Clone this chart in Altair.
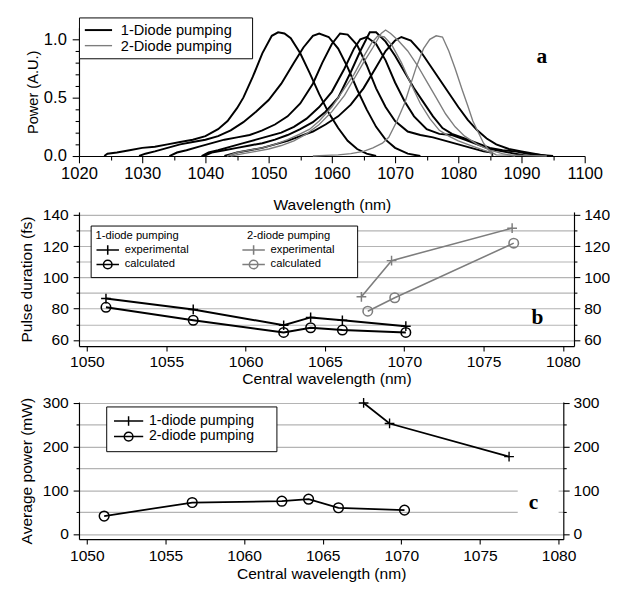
import altair as alt
import pandas as pd

FONT = "Liberation Sans"
SERIF = "Liberation Serif"
GRAY = "#7d7d7d"
GRID = "#b4b4b4"
NB = "\u00a0"
BLANK = "\u2800"

# ---------------- panel a : spectra ----------------
B1_WL = [1024.0, 1024.5, 1026, 1028, 1030, 1032, 1034, 1036, 1038, 1040, 1042, 1043.5, 1045, 1046, 1047.5, 1049,
         1050.5, 1051.5, 1052.5, 1053.5, 1055, 1056.5, 1058, 1059.5, 1061, 1062.5, 1064, 1065.5, 1067]
B1_P = [0.00, 0.02, 0.03, 0.05, 0.07, 0.08, 0.10, 0.12, 0.14, 0.17, 0.23, 0.30, 0.41, 0.50, 0.68, 0.88,
        1.03, 1.06, 1.05, 1.01, 0.88, 0.71, 0.53, 0.37, 0.24, 0.13, 0.06, 0.02, 0.00]

B2_WL = [1029.5, 1030.5, 1032, 1034, 1036, 1038, 1040, 1042, 1044, 1046, 1048, 1050, 1052, 1054, 1055.5, 1057,
         1058, 1059.5, 1061, 1062.5, 1064, 1065.5, 1067, 1068.5, 1070, 1072, 1074]
B2_P = [0.00, 0.02, 0.04, 0.07, 0.10, 0.12, 0.14, 0.17, 0.22, 0.29, 0.38, 0.48, 0.62, 0.80, 0.93, 1.03,
        1.05, 1.02, 0.92, 0.76, 0.57, 0.40, 0.25, 0.14, 0.07, 0.02, 0.00]

B3_WL = [1034.3, 1035.5, 1037, 1039, 1041, 1043, 1045, 1047, 1049, 1051, 1053, 1055, 1057, 1058.5, 1060, 1061.3,
         1062.5, 1064, 1065.5, 1067, 1068.5, 1070, 1072, 1074, 1076, 1078, 1080, 1082, 1084, 1085.3, 1085.4]
B3_P = [0.00, 0.03, 0.05, 0.08, 0.11, 0.14, 0.16, 0.18, 0.22, 0.27, 0.34, 0.45, 0.62, 0.80, 0.96, 1.05,
        1.04, 0.95, 0.78, 0.58, 0.42, 0.30, 0.21, 0.18, 0.16, 0.13, 0.10, 0.07, 0.04, 0.03, 0.00]

B4_WL = [1039.4, 1040.5, 1042, 1044, 1046, 1048, 1050, 1052, 1054, 1056, 1058, 1060, 1062, 1063.5, 1064.5,
         1065.5, 1067, 1068.5, 1070, 1071.5, 1073, 1075, 1077, 1079, 1081, 1083, 1085, 1087, 1089, 1091]
B4_P = [0.00, 0.03, 0.05, 0.08, 0.11, 0.14, 0.17, 0.20, 0.25, 0.32, 0.42, 0.55, 0.75, 0.92, 1.00,
        1.02, 0.96, 0.82, 0.63, 0.47, 0.34, 0.23, 0.19, 0.18, 0.14, 0.10, 0.06, 0.04, 0.02, 0.00]

B5_WL = [1039.7, 1041, 1043, 1045, 1047, 1049, 1051, 1053, 1055, 1057, 1059, 1061, 1063, 1064.5, 1066, 1067,
         1068.5, 1070, 1071.5, 1073, 1074.5, 1076, 1077.5, 1079, 1081, 1083, 1085, 1087, 1089, 1091, 1093, 1095]
B5_P = [0.00, 0.03, 0.05, 0.07, 0.09, 0.11, 0.14, 0.18, 0.23, 0.29, 0.38, 0.50, 0.72, 0.90, 1.06, 1.06,
        0.98, 0.86, 0.72, 0.58, 0.46, 0.34, 0.24, 0.19, 0.15, 0.11, 0.07, 0.05, 0.04, 0.02, 0.01, 0.00]

B6_WL = [1043, 1045, 1047, 1049, 1051, 1053, 1055, 1057, 1059, 1061, 1063, 1065, 1067, 1068.5, 1070, 1071,
         1072.5, 1074, 1075.5, 1077, 1078.5, 1080, 1081.5, 1083, 1084.5, 1086, 1088, 1090, 1092, 1094]
B6_P = [0.00, 0.03, 0.05, 0.07, 0.10, 0.13, 0.17, 0.21, 0.27, 0.34, 0.44, 0.58, 0.76, 0.90, 0.99, 1.02,
        0.99, 0.90, 0.78, 0.66, 0.54, 0.42, 0.31, 0.22, 0.15, 0.10, 0.06, 0.04, 0.02, 0.00]

G1_WL = [1043.4, 1045, 1047, 1049, 1051, 1053, 1055, 1056.5, 1058, 1060, 1062, 1063.5, 1065, 1066.3, 1067.3,
         1068.3, 1069.5, 1071, 1072.5, 1074, 1075.5, 1077, 1078.5, 1080, 1082, 1084, 1085.2, 1085.3]
G1_P = [0.00, 0.03, 0.05, 0.07, 0.10, 0.14, 0.19, 0.23, 0.30, 0.42, 0.58, 0.70, 0.85, 0.97, 1.03,
        1.02, 0.95, 0.80, 0.62, 0.45, 0.32, 0.22, 0.17, 0.13, 0.09, 0.05, 0.03, 0.00]

G2_WL = [1044, 1046, 1048, 1050, 1052, 1054, 1056, 1058, 1060, 1062, 1063.5, 1065, 1066.5, 1067.8, 1068.5,
         1069.3, 1070.5, 1072, 1073.5, 1075, 1076.5, 1078, 1079.5, 1081, 1083, 1085, 1087, 1089]
G2_P = [0.00, 0.02, 0.04, 0.06, 0.09, 0.13, 0.19, 0.27, 0.38, 0.52, 0.66, 0.80, 0.93, 1.05, 1.08,
        1.05, 0.99, 0.90, 0.78, 0.64, 0.50, 0.36, 0.25, 0.17, 0.10, 0.05, 0.02, 0.00]

G3_WL = [1057, 1059, 1061, 1063, 1065, 1066.5, 1068, 1069, 1070.3, 1071.5, 1072.5, 1073.4, 1074.5, 1075.5,
         1076.5, 1077.5, 1078.5, 1079.5, 1080.6, 1081.5, 1082.3, 1083.1, 1084, 1085, 1086, 1090, 1094]
G3_P = [0.00, 0.005, 0.01, 0.02, 0.04, 0.07, 0.11, 0.16, 0.30, 0.45, 0.62, 0.77, 0.92, 1.00,
        1.03, 1.02, 0.90, 0.75, 0.57, 0.43, 0.30, 0.21, 0.11, 0.04, 0.01, 0.005, 0.00]

PUMP_A = ["1-Diode pumping", "2-Diode pumping"]
SPECTRA = [
    (PUMP_A[0], B1_WL, B1_P), (PUMP_A[0], B2_WL, B2_P), (PUMP_A[0], B3_WL, B3_P),
    (PUMP_A[0], B4_WL, B4_P), (PUMP_A[0], B5_WL, B5_P), (PUMP_A[0], B6_WL, B6_P),
    (PUMP_A[1], G1_WL, G1_P), (PUMP_A[1], G2_WL, G2_P), (PUMP_A[1], G3_WL, G3_P),
]
A_X_TICKS = list(range(1020, 1101, 5))
A_Y_TICKS = [round(0.1 * i, 1) for i in range(11)]

# ---------------- panel b : pulse duration ----------------
B_X1 = [1051.2, 1056.7, 1062.4, 1064.1, 1066.1, 1070.1]
B_EXP1 = [86.5, 79.5, 69.4, 74.4, 72.6, 68.8]
B_CALC1 = [80.9, 72.6, 64.8, 67.8, 66.3, 64.8]
B_X2E = [1067.3, 1069.2, 1076.8]
B_EXP2 = [87.6, 110.8, 131.6]
B_X2C = [1067.7, 1069.4, 1076.9]
B_CALC2 = [78.4, 87.0, 122.0]
B_KEYS = ["1-exp", "1-calc", "2-exp", "2-calc"]
B_X_TICKS = list(range(1050, 1081, 5))
B_Y_TICKS = list(range(60, 141, 10))

# ---------------- panel c : average power ----------------
C_X1 = [1067.6, 1069.25, 1076.85]
C_P1 = [300, 253, 177]
C_X2 = [1051.1, 1056.7, 1062.4, 1064.1, 1066.0, 1070.2]
C_P2 = [41, 72, 75, 79.6, 60, 54.5]
C_KEYS = ["1-diode pumping", "2-diode pumping"]
C_Y_TICKS = list(range(0, 301, 50))

# marker / legend-symbol paths
PLUS = "M-1,0H1M0,-1V1"
LEG_LINE_A = "M-1,0H3"
LEG_PLUS_B = "M-1,0H3.2M1.1,-0.9V0.9"
LEG_CIRC_B = "M-1,0H3.2M0.3,0A0.8,0.8 0 1,0 1.9,0A0.8,0.8 0 1,0 0.3,0"
LEG_PLUS_C = "M-1,0H3.29M1.14,-0.71V0.71"
LEG_CIRC_C = "M-1,0H3.29M0.5,0A0.643,0.643 0 1,0 1.786,0A0.643,0.643 0 1,0 0.5,0"

# ================= build panel a =================
rows = []
for i, (pump, wls, ps) in enumerate(SPECTRA):
    for w, p in zip(wls, ps):
        rows.append({"curve": i, "pump": pump, "wl": w, "p": p})
df_a = pd.DataFrame(rows)

leg_a = dict(orient="none", legendX=0, legendY=-10.5, title=None, strokeColor="black", fillColor="white",
             padding=5, symbolType=LEG_LINE_A, symbolSize=196, labelFont=FONT, labelFontSize=15,
             labelColor="black", rowPadding=0, labelOffset=22, labelLimit=400,
             labelExpr="datum.label + '" + NB + BLANK + "'")

xa = alt.X("wl:Q", scale=alt.Scale(domain=[1020, 1100], nice=False, zero=False),
           axis=alt.Axis(values=A_X_TICKS, format="d",
                         labelExpr="datum.value % 10 == 0 ? datum.label : ''",
                         tickSize={"condition": {"test": "datum.value % 10 == 0", "value": 7}, "value": 4},
                         labelFontSize=17, titleFontSize=16, labelPadding=3, titlePadding=16,
                         labelFlush=False, labelOverlap=False, grid=False, title="Wavelength (nm)"))
ya = alt.Y("p:Q", scale=alt.Scale(domain=[0, 1.1], nice=False),
           axis=alt.Axis(values=A_Y_TICKS, format=".1f",
                         labelExpr="round(datum.value*10) % 5 == 0 ? datum.label : ''",
                         tickSize={"condition": {"test": "round(datum.value*10) % 5 == 0", "value": 7}, "value": 4},
                         labelFontSize=17, titleFontSize=15, labelPadding=6, titlePadding=3,
                         labelFlush=False, labelOverlap=False, grid=False, title="Power (A.U.)"))

lines_a = alt.Chart(df_a).mark_line().encode(
    x=xa, y=ya,
    color=alt.Color("pump:N", scale=alt.Scale(domain=PUMP_A, range=["#000000", GRAY]), legend=alt.Legend(**leg_a)),
    strokeWidth=alt.StrokeWidth("pump:N", scale=alt.Scale(domain=PUMP_A, range=[2.0, 1.4]),
                                legend=alt.Legend(**leg_a)),
    detail="curve:N",
)
lab_a = alt.Chart(pd.DataFrame({"wl": [1093.2], "p": [0.854], "t": ["a"]})).mark_text(
    font=SERIF, fontSize=22, fontWeight="bold", color="black").encode(x=xa, y=ya, text="t:N")
panel_a = alt.layer(lines_a, lab_a).properties(width=520, height=132)

# ================= build panel b =================
rows = []
for x, y in zip(B_X1, B_EXP1):
    rows.append({"key": "1-exp", "x": x, "y": y})
for x, y in zip(B_X1, B_CALC1):
    rows.append({"key": "1-calc", "x": x, "y": y})
for x, y in zip(B_X2E, B_EXP2):
    rows.append({"key": "2-exp", "x": x, "y": y})
for x, y in zip(B_X2C, B_CALC2):
    rows.append({"key": "2-calc", "x": x, "y": y})
df_b = pd.DataFrame(rows)

B_DOM_Y = [56, 142]
major20 = "datum.value % 20 == 0"


def yb(field, axis):
    return alt.Y(field, scale=alt.Scale(domain=B_DOM_Y, nice=False, zero=False), axis=axis)


ax_b_left = alt.Axis(values=B_Y_TICKS, format="d", labelExpr=major20 + " ? datum.label : ''",
                     tickSize={"condition": {"test": major20, "value": 6}, "value": 3},
                     grid=True, gridColor=GRID, gridWidth=1.2, labelFontSize=16, titleFontSize=16,
                     labelPadding=5, titlePadding=8, labelOverlap=False, labelFlush=False,
                     title="Pulse duration (fs)")
ax_b_right = alt.Axis(orient="right", values=B_Y_TICKS, format="d", labelExpr=major20 + " ? datum.label : ''",
                      tickSize={"condition": {"test": major20, "value": 6}, "value": 3},
                      grid=False, labelFontSize=16, labelPadding=4, labelOverlap=False, labelFlush=False,
                      title=None)
xb = alt.X("x:Q", scale=alt.Scale(domain=[1049.5, 1080.7], nice=False, zero=False),
           axis=alt.Axis(values=B_X_TICKS, format="d", tickSize=5, labelFontSize=16, titleFontSize=16,
                         labelPadding=3, titlePadding=1, labelFlush=False, labelOverlap=False,
                         grid=False, title="Central wavelength (nm)"))

base_b = alt.Chart(df_b)
b_layers = []
first = True
for grp, col, lw in [("1", "#000000", 2.0), ("2", GRAY, 1.6)]:
    b_layers.append(base_b.transform_filter(f"slice(datum.key, 0, 1) == '{grp}'").mark_line(
        color=col, strokeWidth=lw).encode(x=xb, y=yb("y:Q", ax_b_left if first else None), detail="key:N"))
    first = False
    b_layers.append(base_b.transform_filter(f"datum.key == '{grp}-exp'").mark_point(
        shape=PLUS, size=100, filled=False, strokeWidth=1.5, opacity=1, color=col).encode(
        x=xb, y=yb("y:Q", None)))
    b_layers.append(base_b.transform_filter(f"datum.key == '{grp}-calc'").mark_point(
        shape="circle", size=95, filled=False, strokeWidth=1.6, opacity=1, color=col).encode(
        x=xb, y=yb("y:Q", None)))

title_b = NB * 2 + "1-diode pumping" + NB * 22 + "2-diode pumping" + NB * 4 + BLANK
leg_b = alt.Legend(orient="none", legendX=12, legendY=14, columns=2, columnPadding=51, title=title_b,
                   titleFont=FONT, titleFontSize=11.5, titleFontWeight="normal", titleColor="black",
                   titlePadding=2, titleLimit=500, labelFont=FONT, labelFontSize=11.5, labelColor="black",
                   labelExpr="indexof(datum.label, 'exp') >= 0 ? 'experimental' : 'calculated'",
                   symbolSize=121, symbolStrokeWidth=1.6, symbolOpacity=1, strokeColor="black",
                   fillColor="white", padding=5, rowPadding=-2, labelOffset=17)
dummy_b = base_b.mark_point(filled=False, strokeWidth=1.6, opacity=0).encode(
    x=xb, y=yb("y:Q", None),
    color=alt.Color("key:N", scale=alt.Scale(domain=B_KEYS, range=["#000000", "#000000", GRAY, GRAY]),
                    legend=leg_b),
    shape=alt.Shape("key:N", scale=alt.Scale(domain=B_KEYS, range=[LEG_PLUS_B, LEG_CIRC_B, LEG_PLUS_B, LEG_CIRC_B]),
                    legend=leg_b))
lab_b = alt.Chart(pd.DataFrame({"x": [1078.4], "y": [74.8], "t": ["b"]})).mark_text(
    font=SERIF, fontSize=22, fontWeight="bold", color="black").encode(
    x=xb, y=yb("y:Q", ax_b_right), text="t:N")
panel_b = alt.layer(*b_layers, dummy_b, lab_b).resolve_scale(y="independent").properties(
    width=509, height=138)

# ================= build panel c =================
rows = []
for x, y in zip(C_X1, C_P1):
    rows.append({"key": C_KEYS[0], "x": x, "y": y})
for x, y in zip(C_X2, C_P2):
    rows.append({"key": C_KEYS[1], "x": x, "y": y})
df_c = pd.DataFrame(rows)

C_DOM_Y = [-12, 302]
major100 = "datum.value % 100 == 0"


def yc(field, axis):
    return alt.Y(field, scale=alt.Scale(domain=C_DOM_Y, nice=False, zero=False), axis=axis)


ax_c_left = alt.Axis(values=C_Y_TICKS, format="d", labelExpr=major100 + " ? datum.label : ''",
                     tickSize={"condition": {"test": major100, "value": 6}, "value": 3},
                     grid=True, gridColor=GRID, gridWidth=1.2, labelFontSize=16, titleFontSize=16,
                     labelPadding=5, titlePadding=8, labelOverlap=False, labelFlush=False,
                     title="Average power (mW)")
ax_c_right = alt.Axis(orient="right", values=C_Y_TICKS, format="d", labelExpr=major100 + " ? datum.label : ''",
                      tickSize={"condition": {"test": major100, "value": 6}, "value": 3},
                      grid=False, labelFontSize=16, labelPadding=4, labelOverlap=False, labelFlush=False,
                      title=None)
xc = alt.X("x:Q", scale=alt.Scale(domain=[1049.5, 1080.3], nice=False, zero=False),
           axis=alt.Axis(values=B_X_TICKS, format="d", tickSize=5, labelFontSize=16, titleFontSize=16,
                         labelPadding=4, titlePadding=2, labelFlush=False, labelOverlap=False,
                         grid=False, title="Central wavelength (nm)"))

base_c = alt.Chart(df_c)
lines_c = base_c.mark_line(strokeWidth=1.8, color="black").encode(
    x=xc, y=yc("y:Q", ax_c_left), detail="key:N")
plus_c = base_c.transform_filter(alt.datum.key == C_KEYS[0]).mark_point(
    shape=PLUS, size=100, filled=False, strokeWidth=1.4, opacity=1, color="black").encode(
    x=xc, y=yc("y:Q", None))
circ_c = base_c.transform_filter(alt.datum.key == C_KEYS[1]).mark_point(
    shape="circle", size=100, filled=False, strokeWidth=1.5, opacity=1, color="black").encode(
    x=xc, y=yc("y:Q", None))
leg_c = alt.Legend(orient="none", legendX=28, legendY=4.5, title=None, labelFont=FONT, labelFontSize=14.5,
                   labelColor="black", labelExpr="datum.label + '" + NB + BLANK + "'", labelLimit=400,
                   symbolSize=196, symbolStrokeWidth=1.5, symbolOpacity=1, strokeColor="black",
                   fillColor="white", padding=7, rowPadding=0, labelOffset=21)
dummy_c = base_c.mark_point(filled=False, strokeWidth=1.5, opacity=0).encode(
    x=xc, y=yc("y:Q", None),
    color=alt.Color("key:N", scale=alt.Scale(domain=C_KEYS, range=["#000000", "#000000"]), legend=leg_c),
    shape=alt.Shape("key:N", scale=alt.Scale(domain=C_KEYS, range=[LEG_PLUS_C, LEG_CIRC_C]), legend=leg_c))
gap_c = alt.Chart(pd.DataFrame({"x": [1077.4], "x_end": [1080.0], "y1": [25], "y2": [125]})).mark_rect(
    color="white").encode(x=xc, x2="x_end:Q", y=yc("y1:Q", None), y2="y2:Q")
lab_c = alt.Chart(pd.DataFrame({"x": [1078.4], "y": [72.8], "t": ["c"]})).mark_text(
    font=SERIF, fontSize=22, fontWeight="bold", color="black").encode(
    x=xc, y=yc("y:Q", ax_c_right), text="t:N")
panel_c = alt.layer(gap_c, lines_c, plus_c, circ_c, dummy_c, lab_c).resolve_scale(y="independent").properties(
    width=498, height=141)

chart = alt.vconcat(panel_a, panel_b, panel_c, spacing=57.5, bounds="flush").resolve_scale(
    color="independent", shape="independent", strokeWidth="independent"
).properties(
    padding={"left": 11, "top": 1, "right": 0, "bottom": 0}, background="white"
).configure_view(stroke=None).configure_axis(
    labelFont=FONT, titleFont=FONT, labelColor="black", titleColor="black", domainColor="black",
    tickColor="black", titleFontWeight="normal", domainWidth=1.2, tickWidth=1.1
)

chart.save("out.html", embed_options={"renderer": "svg", "actions": False})
